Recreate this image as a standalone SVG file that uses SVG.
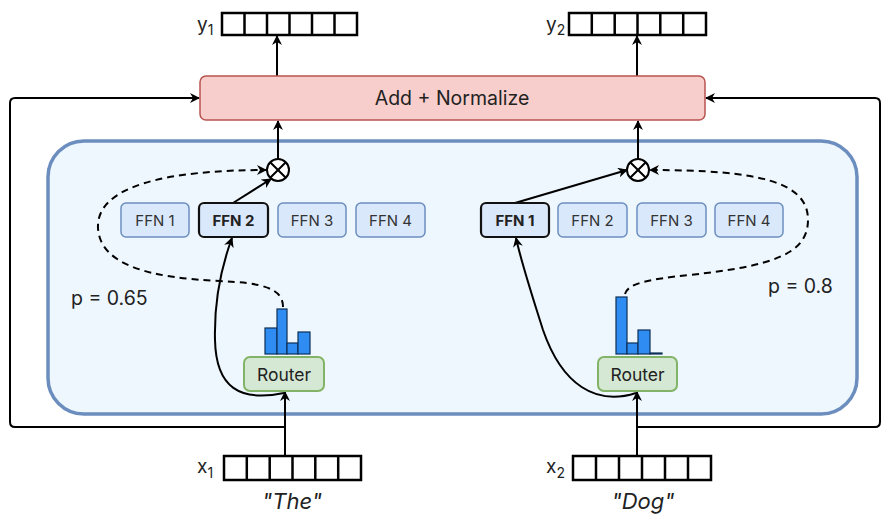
<svg xmlns="http://www.w3.org/2000/svg" width="883" height="515" viewBox="0 0 883 515">
<defs>
<marker id="arr" viewBox="0 0 10 10" refX="9" refY="5" markerWidth="10" markerHeight="10" markerUnits="userSpaceOnUse" orient="auto">
<path d="M0,0 L10,5 L0,10 L3,5 z" fill="#000"/>
</marker>
<style>
text{font-family:Inter,"Liberation Sans",sans-serif;fill:#222}
.ffn{fill:#dae8fc;stroke:#6c8ebf;stroke-width:1.5}
.ffnsel{fill:#dae8fc;stroke:#111;stroke-width:2.2}
.ft{font-size:15px;text-anchor:middle;fill:#333}
.fts{font-size:15px;text-anchor:middle;font-weight:bold}
.vec{fill:#fff;stroke:#000;stroke-width:2.5}
.ln{fill:none;stroke:#000;stroke-width:2}
.dash{fill:none;stroke:#000;stroke-width:2;stroke-dasharray:7,5}
.bar{fill:#2f8cf2;stroke:#0d2f57;stroke-width:1.2}
.router{fill:#d5e8d4;stroke:#82b366;stroke-width:2}
</style>
</defs>

<g id="container">
<rect x="48" y="141" width="809" height="273" rx="36" fill="#eef7fd" stroke="#6c8ebf" stroke-width="3.5"/>
</g>

<g id="connectors">
<path class="ln" d="M285 427 L15 427 Q10 427 10 422 L10 103 Q10 98 15 98 L199 98" marker-end="url(#arr)"/>
<path class="ln" d="M637 427 L875 427 Q880 427 880 422 L880 103 Q880 98 875 98 L706 98" marker-end="url(#arr)"/>
<path class="ln" d="M277 76 L277 36" marker-end="url(#arr)"/>
<path class="ln" d="M637 76 L637 36" marker-end="url(#arr)"/>
<path class="ln" d="M278 159 L278 121" marker-end="url(#arr)"/>
<path class="ln" d="M638 159 L638 121" marker-end="url(#arr)"/>
<path class="ln" d="M285 455 L285 392" marker-end="url(#arr)"/>
<path class="ln" d="M637 455 L637 392" marker-end="url(#arr)"/>
<path class="ln" d="M284 393 C240 402 216 388 215 340 C214 300 222 265 232 238" marker-end="url(#arr)"/>
<path class="ln" d="M636 393 C596 406 562 385 543 330 C532 295 522 265 516 238" marker-end="url(#arr)"/>
<path class="ln" d="M233 203 L271 179" marker-end="url(#arr)"/>
<path class="ln" d="M515 203 L627 170" marker-end="url(#arr)"/>
<path class="dash" d="M283 307 C283 288 262 283 220 281 C150 278 100 265 98 228 C96 185 170 170 266 170" marker-end="url(#arr)"/>
<path class="dash" d="M625 294 C628 283 650 279 690 275 C770 266 808 255 808 220 C808 182 760 170 650 170" marker-end="url(#arr)"/>
</g>

<g id="add-normalize">
<rect x="200" y="76" width="505" height="44" rx="6" fill="#f8cecc" stroke="#b85450" stroke-width="1.5"/>
<text x="452" y="105" font-size="19.5" text-anchor="middle">Add + Normalize</text>
</g>

<g id="y1">
<text x="197" y="31" font-size="19">y<tspan font-size="14" dy="4">1</tspan></text>
<rect class="vec" x="222" y="13" width="135" height="22"/>
<path d="M244.5 13v22M267 13v22M289.5 13v22M312 13v22M334.5 13v22" stroke="#000" stroke-width="2.5"/>
</g>
<g id="y2">
<text x="546" y="31" font-size="19">y<tspan font-size="14" dy="4">2</tspan></text>
<rect class="vec" x="569" y="13" width="137" height="22"/>
<path d="M591.8 13v22M614.7 13v22M637.5 13v22M660.3 13v22M683.2 13v22" stroke="#000" stroke-width="2.5"/>
</g>

<g id="mult1">
<circle cx="278" cy="170" r="11" fill="#fff" stroke="#000" stroke-width="2"/>
<path d="M270.2 162.2L285.8 177.8M285.8 162.2L270.2 177.8" stroke="#000" stroke-width="2"/>
</g>
<g id="mult2">
<circle cx="638" cy="170" r="11" fill="#fff" stroke="#000" stroke-width="2"/>
<path d="M630.2 162.2L645.8 177.8M645.8 162.2L630.2 177.8" stroke="#000" stroke-width="2"/>
</g>

<g id="ffn-left-1"><rect class="ffn" x="121" y="203" width="68" height="34" rx="5"/><text class="ft" x="155" y="225.5">FFN 1</text></g>
<g id="ffn-left-2"><rect class="ffnsel" x="199" y="203" width="69" height="34" rx="5"/><text class="fts" x="233.5" y="225.5">FFN 2</text></g>
<g id="ffn-left-3"><rect class="ffn" x="278" y="203" width="68" height="34" rx="5"/><text class="ft" x="312" y="225.5">FFN 3</text></g>
<g id="ffn-left-4"><rect class="ffn" x="356" y="203" width="69" height="34" rx="5"/><text class="ft" x="390.5" y="225.5">FFN 4</text></g>

<g id="ffn-right-1"><rect class="ffnsel" x="481" y="203" width="68" height="34" rx="5"/><text class="fts" x="515" y="225.5">FFN 1</text></g>
<g id="ffn-right-2"><rect class="ffn" x="558" y="203" width="69" height="34" rx="5"/><text class="ft" x="592.5" y="225.5">FFN 2</text></g>
<g id="ffn-right-3"><rect class="ffn" x="637" y="203" width="69" height="34" rx="5"/><text class="ft" x="671.5" y="225.5">FFN 3</text></g>
<g id="ffn-right-4"><rect class="ffn" x="715" y="203" width="68" height="34" rx="5"/><text class="ft" x="749" y="225.5">FFN 4</text></g>

<g id="hist1">
<rect class="bar" x="265" y="328" width="12" height="26"/>
<rect class="bar" x="277" y="309" width="10" height="45"/>
<rect class="bar" x="287" y="343" width="11" height="11"/>
<rect class="bar" x="298" y="332" width="12" height="22"/>
</g>
<g id="hist2">
<rect class="bar" x="616" y="297" width="11" height="57"/>
<rect class="bar" x="627" y="343" width="11" height="11"/>
<rect class="bar" x="638" y="330" width="12" height="24"/>
<rect class="bar" x="650" y="353" width="12" height="1"/>
</g>

<g id="router1">
<rect class="router" x="244" y="357" width="80" height="34" rx="6"/>
<text x="284" y="381" font-size="17.5" text-anchor="middle">Router</text>
</g>
<g id="router2">
<rect class="router" x="598" y="357" width="79" height="34" rx="6"/>
<text x="637.5" y="381" font-size="17.5" text-anchor="middle">Router</text>
</g>

<g id="p1"><text x="71" y="305" font-size="19.5">p = 0.65</text></g>
<g id="p2"><text x="768" y="293" font-size="19.5">p = 0.8</text></g>

<g id="x1">
<text x="197" y="473" font-size="19">x<tspan font-size="14" dy="5">1</tspan></text>
<rect class="vec" x="224" y="456" width="137" height="24"/>
<path d="M246.8 456v24M269.7 456v24M292.5 456v24M315.3 456v24M338.2 456v24" stroke="#000" stroke-width="2.5"/>
<text x="292" y="509" font-size="22" font-style="italic" text-anchor="middle">"The"</text>
</g>
<g id="x2">
<text x="546" y="473" font-size="19">x<tspan font-size="14" dy="5">2</tspan></text>
<rect class="vec" x="573" y="456" width="138" height="24"/>
<path d="M596 456v24M619 456v24M642 456v24M665 456v24M688 456v24" stroke="#000" stroke-width="2.5"/>
<text x="643" y="509" font-size="22" font-style="italic" text-anchor="middle">"Dog"</text>
</g>
</svg>
